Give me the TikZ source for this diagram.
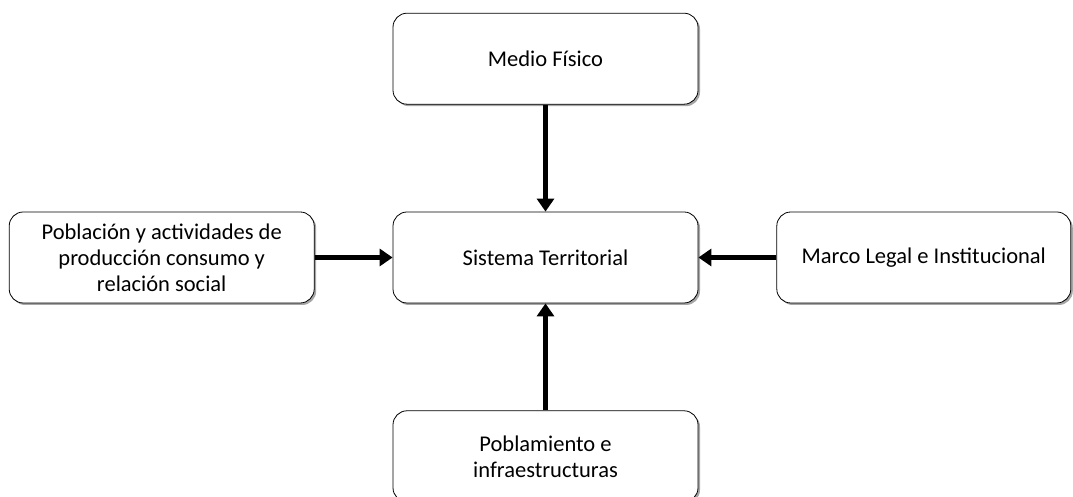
\documentclass[tikz,border=0pt]{standalone}
\usepackage{fontspec}
\setmainfont{Carlito}
\usetikzlibrary{arrows.meta, positioning, shadows}

\begin{document}
\begin{tikzpicture}[
    x=1pt, y=1pt,
    node distance = 107pt and 78pt,
    boks/.style = {rectangle, rounded corners=14pt, draw, line width=0.8pt,
        fill=white, minimum width=305pt, minimum height=91pt,
        align=center, inner sep=2pt,
        drop shadow={shadow xshift=2pt, shadow yshift=-2pt,
            fill=black, opacity=0.35}},
    pil/.style = {black, line width=4.5pt,
        -{Triangle[length=13pt, width=17pt]}},
    font=\fontsize{22.5}{26}\selectfont
    ]
    \useasboundingbox (0,0) rectangle (1073,497);
    %nodes
    \node[boks] (sistema) at (545.5,239.5) {Sistema Territorial};
    \node[boks] (fisico) [above=of sistema] {Medio Físico};
    \node[boks] (poblacion) [left=of sistema]
        {Población y actividades de\\producción consumo y\\relación social};
    \node[boks, minimum width=294pt, anchor=west] (marco)
        at ([xshift=78pt]sistema.east) {Marco Legal e Institucional};
    \node[boks] (poblamiento) [below=of sistema]
        {Poblamiento e\\infraestructuras};

    % edges
    \draw[pil] (fisico) -- (sistema);
    \draw[pil] (poblacion) -- (sistema);
    \draw[pil] (marco) -- (sistema);
    \draw[pil] (poblamiento) -- (sistema);
\end{tikzpicture}
\end{document}
